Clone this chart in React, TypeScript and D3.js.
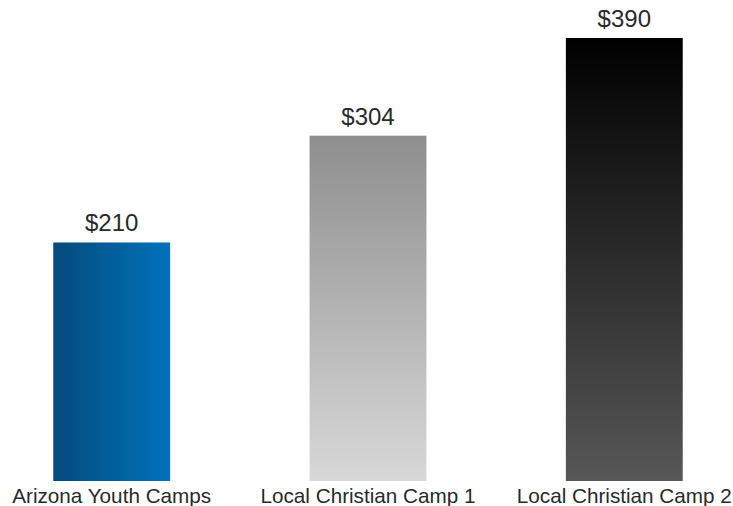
import React from 'react';
import * as d3 from 'd3';

const categories = ['Arizona Youth Camps', 'Local Christian Camp 1', 'Local Christian Camp 2'];
const values = [210, 304, 390];
const valueLabels = ['$210', '$304', '$390'];

const width = 733;
const height = 506;

// gradient for each bar: [id, direction, from, to]
const gradients = [
  { id: 'g0', vertical: false, from: '#064a7c', to: '#0073bb' },
  { id: 'g1', vertical: true, from: '#8e8e8e', to: '#d8d8d8' },
  { id: 'g2', vertical: true, from: '#000000', to: '#575757' },
];

const App: React.FC = () => {
  const x = d3
    .scaleBand<string>()
    .domain(categories)
    .range([2, 734])
    .paddingInner(0.544)
    .paddingOuter(0.2);

  const y = d3
    .scaleLinear()
    .domain([0, d3.max(values) as number])
    .range([481, 38]);

  return (
    <svg
      width={width}
      height={height}
      style={{ position: 'absolute', left: 0, top: 0, background: '#fff' }}
      fontFamily="'Liberation Sans', Arial, sans-serif"
    >
      <defs>
        {gradients.map((g) => (
          <linearGradient
            key={g.id}
            id={g.id}
            x1="0"
            y1="0"
            x2={g.vertical ? '0' : '1'}
            y2={g.vertical ? '1' : '0'}
          >
            <stop offset="0%" stopColor={g.from} />
            <stop offset="100%" stopColor={g.to} />
          </linearGradient>
        ))}
      </defs>
      {categories.map((c, i) => {
        const bx = x(c) as number;
        const bw = x.bandwidth();
        return (
          <g key={c}>
            <rect
              x={bx}
              y={y(values[i])}
              width={bw}
              height={y(0) - y(values[i])}
              fill={`url(#${gradients[i].id})`}
            />
            <text
              x={bx + bw / 2}
              y={y(values[i]) - 11}
              textAnchor="middle"
              fontSize={24}
              fill="#2a2a2a"
            >
              {valueLabels[i]}
            </text>
            <text
              x={bx + bw / 2}
              y={503}
              textAnchor="middle"
              fontSize={20.7}
              fill="#2a2a2a"
            >
              {c}
            </text>
          </g>
        );
      })}
    </svg>
  );
};

export default App;
